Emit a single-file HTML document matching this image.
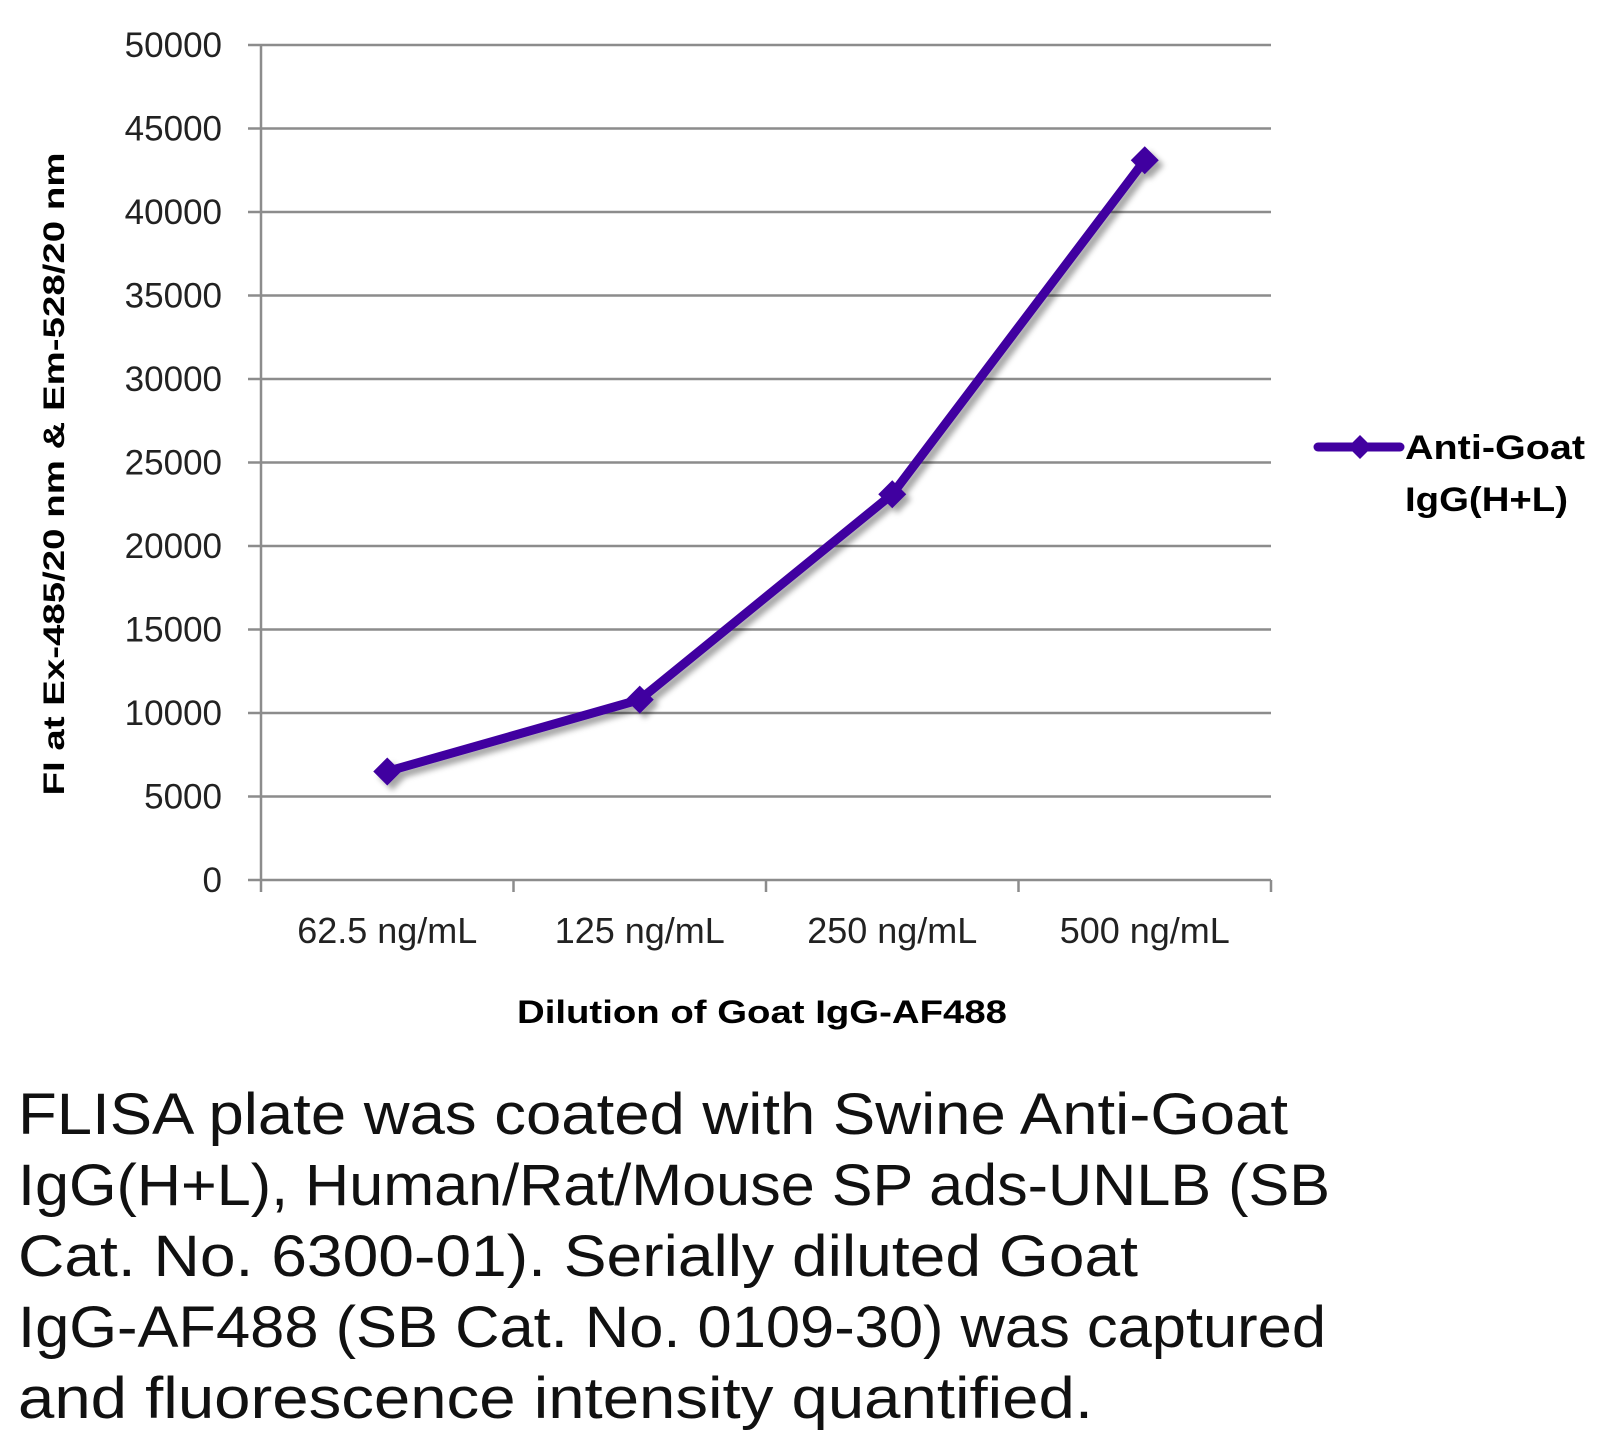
<!DOCTYPE html>
<html><head><meta charset="utf-8"><style>
html,body{margin:0;padding:0;background:#fff;}
svg{display:block;font-family:"Liberation Sans",sans-serif;}
</style></head><body>
<svg id="chart" width="1620" height="1444" viewBox="0 0 1620 1444">
<defs><filter id="sh" x="-10%" y="-10%" width="130%" height="130%"><feDropShadow dx="5" dy="5" stdDeviation="3" flood-color="#000" flood-opacity="0.35"/></filter></defs>
<g id="grid"></g>
<g id="axes"></g>
<g id="series" filter="url(#sh)"></g>
<text transform="translate(64,474) rotate(-90)" text-anchor="middle" font-size="30" font-weight="bold" textLength="643" lengthAdjust="spacingAndGlyphs">FI at Ex-485/20 nm &amp; Em-528/20 nm</text>
<text x="762" y="1023" text-anchor="middle" font-size="32" font-weight="bold" textLength="490" lengthAdjust="spacingAndGlyphs">Dilution of Goat IgG-AF488</text>
<g>
<line x1="1318" y1="447" x2="1400" y2="447" stroke="#4100a0" stroke-width="9" stroke-linecap="round"/>
<path d="M1360 435 L1372 447 L1360 459 L1348 447Z" fill="#4100a0"/>
<text x="1405" y="459" font-size="34" font-weight="bold" textLength="180" lengthAdjust="spacingAndGlyphs">Anti-Goat</text>
<text x="1405" y="511" font-size="34" font-weight="bold" textLength="163" lengthAdjust="spacingAndGlyphs">IgG(H+L)</text>
</g>
<g font-size="58" fill="#111">
<text x="18" y="1134" textLength="1270" lengthAdjust="spacingAndGlyphs">FLISA plate was coated with Swine Anti-Goat</text>
<text x="18" y="1205" textLength="1312" lengthAdjust="spacingAndGlyphs">IgG(H+L), Human/Rat/Mouse SP ads-UNLB (SB</text>
<text x="18" y="1276" textLength="1120" lengthAdjust="spacingAndGlyphs">Cat. No. 6300-01).  Serially diluted Goat</text>
<text x="18" y="1347" textLength="1308" lengthAdjust="spacingAndGlyphs">IgG-AF488 (SB Cat. No. 0109-30) was captured</text>
<text x="18" y="1418" textLength="1075" lengthAdjust="spacingAndGlyphs">and fluorescence intensity quantified.</text>
</g>
</svg>
<script>
const categories=["62.5 ng/mL","125 ng/mL","250 ng/mL","500 ng/mL"];
const values=[6500,10800,23100,43100];
const yTicks=[0,5000,10000,15000,20000,25000,30000,35000,40000,45000,50000];
const NS="http://www.w3.org/2000/svg";
const L=261,R=1271,T=45,B=880,yMax=50000;
const y=v=>B-(v/yMax)*(B-T);
const bw=(R-L)/categories.length;
const x=i=>L+bw*(i+0.5);
function mk(t,a,p){const e=document.createElementNS(NS,t);for(const k in a)e.setAttribute(k,a[k]);p.appendChild(e);return e;}
const grid=document.getElementById('grid'),axes=document.getElementById('axes'),ser=document.getElementById('series');
yTicks.forEach(v=>{
 if(v>0){const g=mk('line',{x1:L,x2:R,y1:y(v),y2:y(v),stroke:'#8c8c8c','stroke-width':2.5},grid);
 
 }
 const tk=mk('line',{x1:L-13,x2:L,y1:y(v),y2:y(v),stroke:'#8c8c8c','stroke-width':2.5},axes);
 
 
 const t=mk('text',{x:222,y:y(v)+12,'text-anchor':'end','font-size':35,fill:'#222'},axes);
 t.textContent=v;
 
 
});
const ya=mk('line',{x1:L,x2:L,y1:T,y2:B,stroke:'#8c8c8c','stroke-width':2.5},axes);


const xa=mk('line',{x1:L,x2:R,y1:B,y2:B,stroke:'#8c8c8c','stroke-width':2.5},axes);


for(let i=0;i<=categories.length;i++){
 const tk=mk('line',{x1:L+bw*i,x2:L+bw*i,y1:B,y2:B+12,stroke:'#8c8c8c','stroke-width':2.5},axes);
 
 
}
categories.forEach((c,i)=>{
 const t=mk('text',{x:x(i),y:943,'text-anchor':'middle','font-size':36,fill:'#222'},axes);
 t.textContent=c;
 
 
});
const pl=mk('polyline',{points:values.map((v,i)=>x(i)+','+y(v)).join(' '),fill:'none',stroke:'#4100a0','stroke-width':9,'stroke-linejoin':'round'},ser);


values.forEach((v,i)=>{
 const cx=x(i),cy=y(v);
 const p=mk('path',{d:`M${cx} ${cy-14} L${cx+14} ${cy} L${cx} ${cy+14} L${cx-14} ${cy}Z`,fill:'#4100a0'},ser);
 
 
});
</script>
</body></html>
